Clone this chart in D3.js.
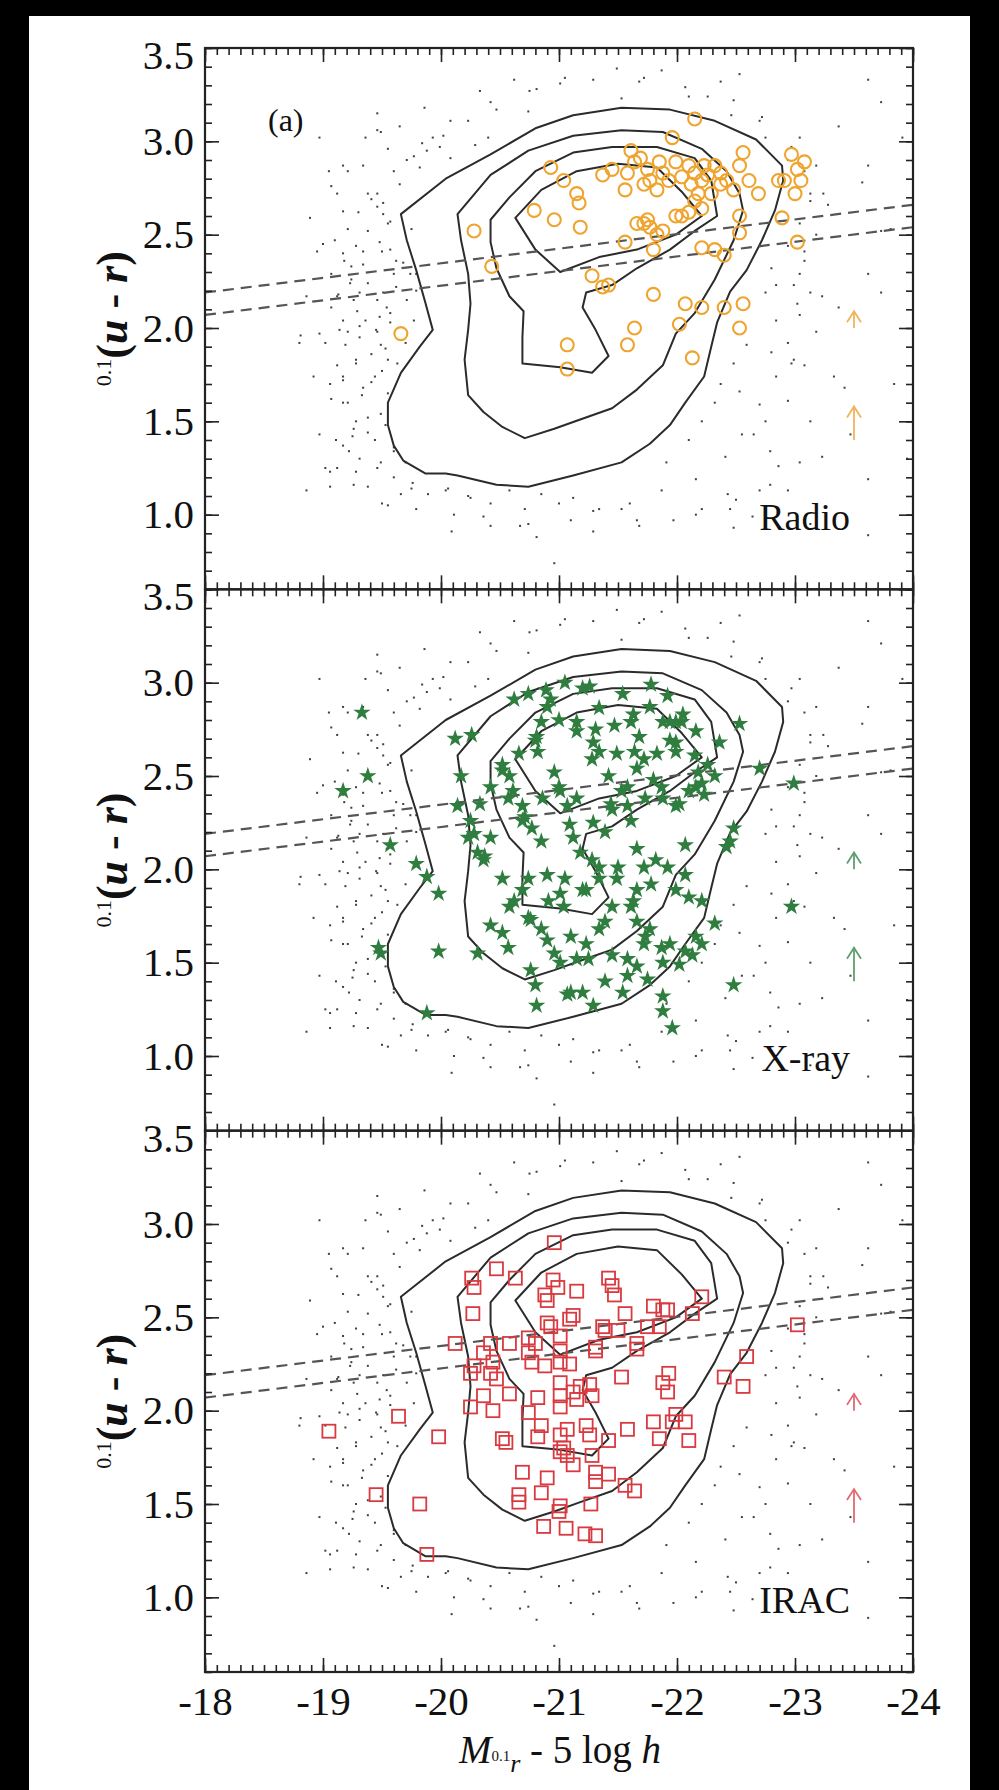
<!DOCTYPE html>
<html>
<head>
<meta charset="utf-8">
<script src="https://cdn.jsdelivr.net/npm/d3@7"></script>
<style>
  html, body { margin: 0; padding: 0; background: #000; }
  svg { display: block; }
  text { font-family: "Liberation Serif", "Times New Roman", serif; fill: #111; }
</style>
</head>
<body>
<svg id="chart" width="999" height="1790"></svg>
<script>
// ---- axis ticks ----
const xTickValues = [-18, -19, -20, -21, -22, -23, -24];
const yTickValues = [1.0, 1.5, 2.0, 2.5, 3.0, 3.5];

// ---- density contours of the comparison sample (same in all panels) ----
const contourOuter = [[-19.66,2.61],[-20.04,2.80],[-20.42,2.93],[-20.80,3.07],[-21.12,3.14],[-21.53,3.18],[-21.94,3.17],[-22.32,3.11],[-22.67,3.01],[-22.89,2.87],[-22.90,2.79],[-22.83,2.63],[-22.72,2.47],[-22.59,2.31],[-22.45,2.195],[-22.34,2.03],[-22.29,1.90],[-22.23,1.74],[-22.07,1.60],[-21.94,1.48],[-21.77,1.38],[-21.53,1.28],[-21.12,1.21],[-20.74,1.15],[-20.47,1.16],[-20.14,1.21],[-20.04,1.22],[-19.87,1.22],[-19.68,1.29],[-19.60,1.37],[-19.55,1.48],[-19.55,1.60],[-19.66,1.76],[-19.82,1.90],[-19.93,1.99],[-19.87,2.13],[-19.79,2.31],[-19.71,2.47]];
const contourSecond = [[-20.14,2.61],[-20.42,2.82],[-20.74,2.95],[-21.12,3.03],[-21.53,3.06],[-21.88,3.05],[-22.21,2.96],[-22.42,2.84],[-22.53,2.72],[-22.56,2.63],[-22.48,2.47],[-22.32,2.26],[-22.15,2.08],[-21.99,1.97],[-21.88,1.80],[-21.66,1.67],[-21.45,1.57],[-21.18,1.51],[-20.96,1.46],[-20.71,1.41],[-20.52,1.47],[-20.36,1.55],[-20.23,1.64],[-20.20,1.83],[-20.23,1.99],[-20.25,2.13],[-20.23,2.29],[-20.17,2.47]];
const contourThird = [[-20.42,2.58],[-20.58,2.70],[-20.80,2.84],[-21.12,2.94],[-21.45,2.97],[-21.83,2.97],[-22.15,2.91],[-22.29,2.79],[-22.34,2.60],[-22.15,2.52],[-21.94,2.42],[-21.66,2.32],[-21.45,2.23],[-21.23,2.19],[-21.20,2.11],[-21.31,1.99],[-21.42,1.85],[-21.28,1.76],[-21.01,1.79],[-20.69,1.81],[-20.69,1.95],[-20.70,2.09],[-20.58,2.17],[-20.47,2.32],[-20.42,2.46]];
const contourInner = [[-20.63,2.59],[-20.85,2.74],[-21.15,2.84],[-21.50,2.88],[-21.83,2.86],[-22.04,2.73],[-22.21,2.60],[-21.99,2.50],[-21.66,2.42],[-21.34,2.38],[-21.01,2.30],[-20.80,2.42]];

// ---- red-sequence dividing lines: [magnitude, colour] end points ----
const dividerUpper = [[-18, 2.19], [-24, 2.66]];
const dividerLower = [[-18, 2.07], [-24, 2.54]];

// ---- comparison galaxies outside the contours (magnitude, colour) ----
const backgroundGalaxies = [[-19.46,3.06],[-19.07,2.76],[-19.21,2.84],[-19.30,2.62],[-19.38,2.72],[-19.41,2.69],[-19.46,2.65],[-19.51,2.67],[-19.51,2.61],[-19.57,2.57],[-19.65,2.77],[-19.71,2.90],[-19.77,2.92],[-19.82,2.86],[-19.88,2.95],[-19.93,3.02],[-20.02,3.03],[-19.99,2.97],[-20.08,2.91],[-20.23,3.11],[-20.29,2.98],[-20.40,3.02],[-20.75,3.27],[-19.00,2.45],[-19.10,2.47],[-19.17,2.40],[-19.24,2.33],[-19.34,2.41],[-19.38,2.52],[-19.48,2.46],[-19.57,2.42],[-19.62,2.36],[-19.68,2.35],[-19.74,2.29],[-19.23,2.24],[-19.31,2.19],[-19.51,2.19],[-19.62,2.22],[-19.71,2.15],[-19.79,2.20],[-19.12,2.17],[-19.54,2.11],[-19.48,2.06],[-19.57,2.08],[-18.81,1.96],[-18.97,1.97],[-19.14,1.99],[-19.31,2.01],[-19.45,1.99],[-19.77,2.04],
[-19.06,1.70],[-19.17,1.60],[-19.28,1.50],[-19.11,1.40],[-19.22,1.34],[-19.38,1.44],[-19.49,1.54],[-19.33,1.64],[-19.44,1.74],[-19.55,1.83],[-19.06,1.23],[-19.28,1.23],[-19.49,1.28],[-19.38,1.15],[-19.66,1.11],[-19.55,1.05],[-19.06,1.15],[-19.76,1.17],[-20.04,1.13],[-20.25,1.09],[-20.58,1.13],[-20.85,1.11],[-21.12,1.09],[-21.34,1.03],[-21.53,1.03],[-21.66,0.97],[-20.74,0.95],[-20.09,0.91],[-20.36,0.99],[-20.96,0.74],[-19.60,1.34],[-19.25,1.42],[-19.17,1.72],[-19.28,1.83],[-19.19,1.91],[-19.49,1.91],
[-21.91,1.28],[-22.10,1.40],[-22.21,1.50],[-22.32,1.60],[-22.37,1.70],[-22.48,1.81],[-22.59,1.91],[-22.53,1.66],[-22.75,1.50],[-22.80,1.87],[-22.97,1.81],[-23.02,2.13],[-23.13,2.19],[-23.08,2.36],[-22.80,2.32],[-22.75,2.19],[-23.13,2.68],[-23.24,2.72],[-22.97,2.97],[-23.18,2.87],[-23.73,2.19],[-23.73,2.52],[-23.84,1.70],[-23.95,1.30],[-23.13,1.50],[-22.86,1.26],[-22.70,1.13],[-22.43,1.11],[-22.21,1.03],[-22.64,0.99],[-23.13,0.95],[-23.62,0.89],[-22.48,0.93],
[-21.01,3.31],[-21.53,3.23],[-22.37,3.32],[-22.53,3.36],[-22.10,3.24],[-21.72,3.34],[-22.72,3.13],[-22.48,3.22],[-20.47,3.17],[-20.74,3.16],[-19.49,3.05],[-23.73,3.21],[-23.62,2.87],
[-19.17,2.625],[-19.21,2.53],[-19.28,2.44],[-19.34,2.34],[-19.38,2.24],[-19.26,2.15],[-19.17,2.04],[-19.31,1.95],[-19.41,1.86],[-19.50,1.77],[-19.34,1.68],[-19.21,1.60],[-19.38,1.52],[-19.53,1.48],[-19.17,1.37],[-19.31,1.30],[-19.46,1.25],[-19.60,1.20],[-19.75,1.14],[-19.89,1.11],[-20.06,1.14],[-20.23,1.10],[-20.42,1.06],[-20.71,1.03],[-21.00,1.06],[-21.29,1.02],[-21.60,1.06],[-21.87,1.13],[-22.16,1.19],[-22.41,1.31],[-22.55,1.43],[-22.70,1.59],[-22.84,1.74],[-22.94,1.92],[-23.04,2.07],[-22.99,2.23],[-23.08,2.41],[-23.04,2.56],[-23.13,2.72],[-22.94,2.90],[-22.75,3.02],[-22.46,3.14],[-22.07,3.29],[-21.68,3.32],[-21.29,3.33],[-20.81,3.28],[-20.42,3.21],[-20.08,3.11],[-19.84,2.99],[-19.60,2.84],[-19.46,2.72],[-19.55,2.56],[-19.50,2.41],[-19.60,2.29],[-19.46,2.15],[-19.57,2.03],[-19.70,1.92],[-19.63,1.81],[-19.07,2.29],[-19.02,1.92],[-18.92,1.74],[-19.12,1.80],[-19.75,2.53],[-19.79,2.29],[-19.05,2.84],[-18.97,3.02],[-19.55,2.96],[-19.34,2.87],[-23.23,2.17],[-23.33,1.74],[-23.47,1.43],[-23.62,1.19],[-23.04,1.28],[-22.79,1.16],[-22.50,1.08],[-20.42,0.94],[-20.81,0.88],[-21.29,0.91],[-21.97,0.97],[-23.81,2.53],[-23.91,3.02],[-23.62,3.33],
[-19.12,2.72],[-19.18,2.36],[-19.24,2.26],[-19.13,2.18],[-19.29,2.09],[-19.21,1.98],[-19.36,2.04],[-19.46,1.98],[-19.53,1.89],[-19.28,1.81],[-19.17,1.74],[-19.41,1.71],[-19.55,1.65],[-19.26,1.46],[-19.44,1.40],[-19.60,1.36],[-19.70,1.28],[-19.07,1.62],[-18.97,1.43],[-19.12,1.25],[-19.26,1.16],[-19.50,1.06],[-19.79,1.03],[-20.11,1.00],[-19.07,2.11],[-18.95,2.41],[-18.89,2.59],[-19.17,2.87],[-19.36,3.02],[-19.65,3.08],[-19.46,3.15],[-19.86,3.18],[-19.02,1.25],[-18.86,1.13],[-18.80,1.92],[-18.86,2.17],
[-22.65,1.43],[-22.79,1.34],[-22.94,1.61],[-23.08,1.80],[-23.18,1.98],[-22.99,1.83],[-22.84,2.04],[-23.04,2.29],[-23.18,2.50],[-22.94,2.44],[-22.84,2.23],[-23.28,2.66],[-23.08,2.84],[-23.04,3.02],[-22.70,3.11],[-22.26,3.24],[-21.87,3.38],[-21.49,3.39],[-21.05,3.34],[-20.62,3.33],[-20.33,3.27],[-22.45,1.03],[-22.16,1.00],[-21.68,0.94],[-21.10,0.97],[-20.67,0.94],[-22.94,1.13],[-23.23,1.31],[-23.42,1.68],[-23.37,2.11],[-23.62,2.29],[-23.57,2.78],[-23.37,3.08]];

// ---- radio-selected AGN hosts ----
const radioSources = [[-19.66,1.97],[-20.28,2.52],[-20.43,2.33],[-20.93,2.86],[-20.79,2.63],[-20.96,2.58],[-21.04,2.79],[-21.17,2.67],[-21.15,2.72],[-21.18,2.54],[-21.37,2.82],[-21.28,2.28],[-21.37,2.22],[-21.42,2.23],[-21.07,1.91],[-21.07,1.78],[-21.58,1.91],[-21.64,2.00],[-21.80,2.18],[-21.96,3.02],[-22.15,3.12],[-21.56,2.46],[-21.72,2.56],[-21.75,2.58],[-21.77,2.54],[-21.80,2.42],[-21.88,2.52],[-21.99,2.60],[-22.02,2.02],[-22.07,2.13],[-22.21,2.11],[-22.40,2.11],[-22.56,2.13],[-22.53,2.00],[-22.13,1.84],[-22.21,2.43],[-22.32,2.42],[-22.40,2.39],[-22.53,2.60],[-22.53,2.51],[-22.86,2.79],[-22.89,2.59],[-23.02,2.46],[-22.97,2.93],[-23.02,2.85],[-23.05,2.79],[-23.00,2.72],[-21.61,2.95],[-21.64,2.89],[-21.58,2.83],[-21.69,2.91],[-21.75,2.85],[-21.77,2.79],[-21.85,2.89],[-21.88,2.83],[-21.93,2.79],[-21.56,2.74],[-21.72,2.77],[-22.10,2.87],[-22.15,2.83],[-22.21,2.79],[-22.12,2.77],[-22.18,2.72],[-22.23,2.87],[-22.26,2.82],[-22.32,2.87],[-22.04,2.81],[-22.15,2.68],[-22.21,2.64],[-22.10,2.62],[-22.37,2.83],[-22.42,2.79],[-22.53,2.87],[-22.56,2.94],[-22.61,2.79],[-22.69,2.72],[-22.48,2.74],[-21.99,2.89],[-22.37,2.77],[-21.45,2.85],[-21.83,2.74],[-22.29,2.72],[-22.04,2.60],[-21.66,2.56],[-21.83,2.50],[-22.91,2.79],[-23.08,2.89]];

// ---- X-ray-selected AGN hosts ----
const xraySources = [[-19.33,2.84],[-19.17,2.42],[-19.38,2.50],[-19.57,2.13],[-19.79,2.03],[-19.47,1.58],[-19.49,1.55],[-19.88,1.23],[-19.98,1.56],[-19.88,1.96],[-19.98,1.87],[-20.12,2.70],[-20.26,2.72],[-20.17,2.50],[-20.14,2.34],[-20.25,2.26],[-20.31,2.09],[-20.36,2.05],[-20.23,2.17],[-20.42,2.17],[-20.52,2.56],[-20.58,2.50],[-20.61,2.42],[-20.69,2.34],[-20.69,2.26],[-20.77,2.22],[-20.85,2.15],[-20.90,2.87],[-20.93,2.91],[-20.85,2.79],[-20.80,2.69],[-20.82,2.63],[-20.96,2.52],[-21.01,2.42],[-21.07,2.34],[-21.09,2.24],[-21.12,2.17],[-21.18,2.09],[-21.26,2.98],[-21.15,2.79],[-21.31,2.75],[-21.34,2.63],[-21.28,2.59],[-21.42,2.50],[-21.47,2.77],[-21.53,2.42],[-21.45,2.32],[-21.58,2.34],[-21.61,2.26],[-21.39,2.20],[-21.28,2.05],[-21.34,1.95],[-21.23,1.89],[-21.61,2.79],[-21.64,2.63],[-21.66,2.54],[-21.72,2.59],[-21.77,2.87],[-21.80,2.48],[-21.88,2.79],[-21.94,2.79],[-21.99,2.79],[-22.04,2.79],[-21.94,2.69],[-21.99,2.63],[-22.15,2.61],[-22.18,2.52],[-22.21,2.46],[-22.23,2.40],[-22.10,2.42],[-21.99,2.34],[-21.88,2.38],[-22.48,2.22],[-22.45,2.15],[-22.42,2.12],[-22.53,2.78],[-22.70,2.54],[-22.99,2.46],[-22.97,1.80],[-22.32,1.71],[-22.21,1.60],[-22.13,1.54],[-22.07,1.56],[-21.94,1.60],[-21.88,1.50],[-21.75,1.41],[-21.66,1.48],[-21.58,1.43],[-22.48,1.38],[-21.88,1.32],[-21.88,1.24],[-21.96,1.15],[-21.72,1.60],[-21.77,1.68],[-21.66,1.72],[-21.61,1.80],[-21.45,1.80],[-21.39,1.72],[-21.34,1.68],[-21.23,1.60],[-21.15,1.52],[-21.01,1.50],[-20.90,1.62],[-20.85,1.68],[-20.74,1.74],[-20.58,1.80],[-20.52,1.66],[-20.80,1.38],[-21.07,1.33],[-21.20,1.34],[-21.04,1.80],[-21.01,1.87],[-20.69,1.89],[-20.74,1.95],[-20.90,1.97],[-21.45,1.54],[-21.66,1.89],[-22.10,1.85],[-22.07,1.97],[-21.99,1.89],[-20.31,1.55],[-21.66,2.11],[-21.72,2.01],[-21.82,2.05],[-21.50,2.01],[-22.32,2.50],
[-20.62,2.91],[-20.74,2.94],[-20.89,2.96],[-21.05,3.00],[-21.20,2.97],[-21.34,2.865],[-21.54,2.94],[-21.63,2.83],[-21.78,2.99],[-21.92,2.93],[-22.05,2.83],[-22.16,2.74],[-21.99,2.68],[-21.83,2.62],[-21.68,2.71],[-21.49,2.62],[-21.29,2.68],[-21.15,2.74],[-21.00,2.80],[-20.81,2.71],[-20.66,2.62],[-20.52,2.53],[-20.42,2.44],[-20.57,2.38],[-20.71,2.28],[-20.86,2.38],[-21.00,2.44],[-21.15,2.38],[-21.29,2.25],[-21.44,2.35],[-21.58,2.44],[-21.73,2.38],[-21.87,2.44],[-22.02,2.35],[-22.16,2.44],[-22.26,2.56],[-22.36,2.68],[-22.07,2.13],[-21.92,2.01],[-21.78,1.92],[-21.63,1.83],[-21.49,1.95],[-21.34,2.01],[-21.20,1.89],[-21.05,1.95],[-20.91,1.83],[-20.76,1.73],[-20.62,1.83],[-20.52,1.95],[-20.37,2.07],[-20.28,2.19],[-20.33,2.35],[-20.42,1.70],[-20.57,1.58],[-20.76,1.46],[-20.96,1.55],[-21.10,1.64],[-21.25,1.52],[-21.39,1.40],[-21.58,1.52],[-21.73,1.64],[-21.87,1.58],[-22.02,1.49],[-22.16,1.64],[-22.21,1.83],[-21.10,1.34],[-21.29,1.27],[-21.54,1.34],[-20.81,1.27]];

// ---- IRAC-selected AGN hosts ----
const iracSources = [[-19.05,1.89],[-19.45,1.55],[-19.64,1.97],[-19.82,1.50],[-19.88,1.23],[-19.98,1.86],[-20.12,2.36],[-20.26,2.71],[-20.28,2.66],[-20.27,2.52],[-20.47,2.76],[-20.63,2.71],[-20.28,2.24],[-20.36,2.31],[-20.42,2.36],[-20.58,2.36],[-20.44,2.26],[-20.47,2.17],[-20.36,2.08],[-20.58,2.09],[-20.25,2.02],[-20.44,2.00],[-20.52,1.85],[-20.55,1.83],[-20.42,2.20],[-20.25,2.20],[-20.69,1.67],[-20.66,1.55],[-20.66,1.51],[-20.85,1.56],[-20.90,1.64],[-20.87,1.38],[-21.01,1.49],[-21.00,1.46],[-21.06,1.37],[-21.22,1.34],[-21.31,1.33],[-21.27,1.50],[-20.96,2.90],[-20.95,2.70],[-20.88,2.62],[-20.90,2.59],[-20.99,2.66],[-21.15,2.64],[-20.90,2.47],[-20.93,2.45],[-21.01,2.40],[-21.09,2.49],[-21.12,2.51],[-20.74,2.39],[-20.80,2.36],[-20.74,2.31],[-20.77,2.26],[-20.88,2.24],[-21.01,2.32],[-21.01,2.26],[-21.09,2.25],[-20.82,2.07],[-20.74,1.99],[-20.85,1.92],[-20.82,1.86],[-21.01,2.15],[-21.01,2.08],[-21.01,2.02],[-21.12,2.10],[-21.15,2.06],[-21.18,2.13],[-21.07,1.90],[-21.01,1.87],[-21.04,1.80],[-21.01,1.78],[-21.07,1.76],[-21.12,1.71],[-21.23,1.92],[-21.26,1.87],[-21.28,1.76],[-21.31,1.67],[-21.31,1.62],[-21.42,1.66],[-21.42,1.84],[-21.28,2.08],[-21.26,2.14],[-21.31,2.34],[-21.31,2.32],[-21.37,2.45],[-21.39,2.43],[-21.50,2.43],[-21.42,2.71],[-21.45,2.67],[-21.47,2.62],[-21.53,2.18],[-21.56,2.52],[-21.58,1.90],[-21.66,2.36],[-21.66,2.33],[-21.80,1.94],[-21.75,2.45],[-21.80,2.56],[-21.88,2.54],[-21.85,1.85],[-21.85,2.45],[-21.88,2.15],[-21.93,2.20],[-21.92,2.10],[-21.99,1.98],[-21.96,1.94],[-22.07,1.94],[-22.10,1.84],[-21.92,2.54],[-22.13,2.52],[-22.21,2.61],[-22.40,2.18],[-22.56,2.13],[-22.59,2.29],[-23.02,2.46],[-21.56,1.60],[-21.64,1.57]];

// ---- evolution arrows at a fixed magnitude: [tail colour, head colour] ----
const arrowMagnitude = -23.5;
const arrowSpans = [[2.00, 2.09], [1.40, 1.58]];

const panelTags = ["Radio", "X-ray", "IRAC"];

// ---------------------------------------------------------------------------
const svg = d3.select("#chart");
const W = 999, H = 1790;

// paper area
svg.append("rect").attr("x", 29).attr("y", 16).attr("width", 941).attr("height", H - 16).attr("fill", "#fff");

const left = 205, right = 913, top0 = 48, bottom = 1672;
const panelH = (bottom - top0) / 3;

const x = d3.scaleLinear().domain([-18, -24]).range([left, right]);

const panels = [
  { tag: panelTags[0], data: radioSources, color: "#eea42e", arrowColor: "#f0b45a", kind: "circle" },
  { tag: panelTags[1], data: xraySources,  color: "#2f7e40", arrowColor: "#5f9f70", kind: "star" },
  { tag: panelTags[2], data: iracSources,  color: "#d83a40", arrowColor: "#de6a72", kind: "square" }
];

const xMinor = d3.range(-18, -24.01, -0.1).map(v => +v.toFixed(1));
const yMinor = d3.range(0.6, 3.501, 0.1).map(v => +v.toFixed(1));

const line = d3.line();

panels.forEach((p, i) => {
  const pTop = top0 + i * panelH;
  const pBot = pTop + panelH;
  const y = d3.scaleLinear().domain([0.6, 3.5]).range([pBot, pTop]);

  const g = svg.append("g");
  const clipId = "clip" + i;
  svg.append("clipPath").attr("id", clipId)
    .append("rect").attr("x", left).attr("y", pTop).attr("width", right - left).attr("height", panelH);
  const plot = g.append("g").attr("clip-path", `url(#${clipId})`);

  // comparison sample points
  plot.append("g").selectAll("rect").data(backgroundGalaxies).join("rect")
    .attr("x", d => x(d[0]) - 1).attr("y", d => y(d[1]) - 1)
    .attr("width", 2).attr("height", 2).attr("fill", "#404040");

  // density contours
  [contourOuter, contourSecond, contourThird, contourInner].forEach(c => {
    plot.append("path")
      .attr("d", line.curve(d3.curveLinearClosed)(c.map(d => [x(d[0]), y(d[1])])))
      .attr("fill", "none").attr("stroke", "#2b2b2b").attr("stroke-width", 2)
      .attr("stroke-linejoin", "round");
  });

  // dividing lines
  [dividerUpper, dividerLower].forEach(l => {
    plot.append("path")
      .attr("d", d3.line()(l.map(d => [x(d[0]), y(d[1])])))
      .attr("fill", "none").attr("stroke", "#555").attr("stroke-width", 2.2)
      .attr("stroke-dasharray", "11,7");
  });

  // AGN samples
  const m = plot.append("g");
  if (p.kind === "circle") {
    m.selectAll("circle").data(p.data).join("circle")
      .attr("cx", d => x(d[0])).attr("cy", d => y(d[1])).attr("r", 6.5)
      .attr("fill", "none").attr("stroke", p.color).attr("stroke-width", 2.1);
  } else if (p.kind === "star") {
    const star = d3.symbol().type(d3.symbolStar).size(95);
    m.selectAll("path").data(p.data).join("path")
      .attr("transform", d => `translate(${x(d[0])},${y(d[1])})`)
      .attr("d", star).attr("fill", p.color);
  } else {
    m.selectAll("rect").data(p.data).join("rect")
      .attr("x", d => x(d[0]) - 6.5).attr("y", d => y(d[1]) - 6.5)
      .attr("width", 13).attr("height", 13)
      .attr("fill", "none").attr("stroke", p.color).attr("stroke-width", 1.8);
  }

  // arrows
  arrowSpans.forEach(s => {
    const ax = x(arrowMagnitude), y0 = y(s[0]), y1 = y(s[1]);
    const a = plot.append("g").attr("stroke", p.arrowColor).attr("stroke-width", 1.8).attr("fill", "none");
    a.append("line").attr("x1", ax).attr("x2", ax).attr("y1", y0).attr("y2", y1);
    a.append("path").attr("d", `M${ax - 7},${y1 + 11}L${ax},${y1}L${ax + 7},${y1 + 11}`);
  });

  // axes with inward ticks
  const axG = g.append("g").attr("stroke-width", 1.6);
  axG.append("g").attr("transform", `translate(${left},0)`)
    .call(d3.axisLeft(y).tickValues(yMinor).tickSize(-7).tickFormat(""));
  axG.append("g").attr("class", "ylabels").attr("transform", `translate(${left},0)`)
    .call(d3.axisLeft(y).tickValues(yTickValues).tickSize(-14).tickPadding(11).tickFormat(d3.format(".1f")));
  axG.append("g").attr("transform", `translate(${right},0)`)
    .call(d3.axisRight(y).tickValues(yMinor).tickSize(-7).tickFormat(""));
  axG.append("g").attr("transform", `translate(${right},0)`)
    .call(d3.axisRight(y).tickValues(yTickValues).tickSize(-14).tickFormat(""));
  axG.append("g").attr("transform", `translate(0,${pTop})`)
    .call(d3.axisTop(x).tickValues(xMinor).tickSize(-7).tickFormat(""));
  axG.append("g").attr("transform", `translate(0,${pTop})`)
    .call(d3.axisTop(x).tickValues(xTickValues).tickSize(-14).tickFormat(""));
  axG.append("g").attr("transform", `translate(0,${pBot})`)
    .call(d3.axisBottom(x).tickValues(xMinor).tickSize(-7).tickFormat(""));
  axG.append("g").attr("transform", `translate(0,${pBot})`)
    .call(d3.axisBottom(x).tickValues(xTickValues).tickSize(-14).tickPadding(14)
      .tickFormat(i === 2 ? (d => String(d).replace("\u2212", "-")) : ""));
  axG.selectAll(".domain").remove();
  axG.selectAll(".tick line").attr("stroke", "#222");
  axG.selectAll(".tick text")
    .attr("fill", "#111").attr("font-family", "Liberation Serif, serif").attr("font-size", 41);
  // the top label sits a little below its tick
  axG.selectAll(".ylabels .tick text").filter(d => d === 3.5).attr("dy", "0.5em");

  // frame
  g.append("rect").attr("x", left).attr("y", pTop).attr("width", right - left).attr("height", panelH)
    .attr("fill", "none").attr("stroke", "#222").attr("stroke-width", 2.2);

  // panel name
  g.append("text").attr("x", 850).attr("y", pTop + 482).attr("text-anchor", "end")
    .attr("font-size", 38).text(p.tag);

  // y-axis title
  const yt = g.append("text")
    .attr("transform", `translate(127,${(pTop + pBot) / 2}) rotate(-90)`)
    .attr("text-anchor", "middle").attr("font-size", 44);
  yt.append("tspan").attr("font-size", 22).attr("dy", -16).text("0.1");
  yt.append("tspan").attr("dy", 16).attr("font-weight", "bold").text("(");
  yt.append("tspan").attr("font-weight", "bold").attr("font-style", "italic").text("u");
  yt.append("tspan").attr("font-weight", "bold").text(" - ");
  yt.append("tspan").attr("font-weight", "bold").attr("font-style", "italic").text("r");
  yt.append("tspan").attr("font-weight", "bold").text(")");
});

// panel tag
svg.append("text").attr("x", 268).attr("y", 131).attr("font-size", 32).text("(a)");

// x-axis title
const xt = svg.append("text").attr("x", 560).attr("y", 1763)
  .attr("text-anchor", "middle").attr("font-size", 39);
xt.append("tspan").attr("font-style", "italic").text("M");
xt.append("tspan").attr("font-size", 15).attr("dy", -2).text("0.1");
xt.append("tspan").attr("font-size", 26).attr("font-style", "italic").attr("dy", 11).text("r");
xt.append("tspan").attr("dy", -9).text(" - 5 log ");
xt.append("tspan").attr("font-style", "italic").text("h");
</script>
</body>
</html>
